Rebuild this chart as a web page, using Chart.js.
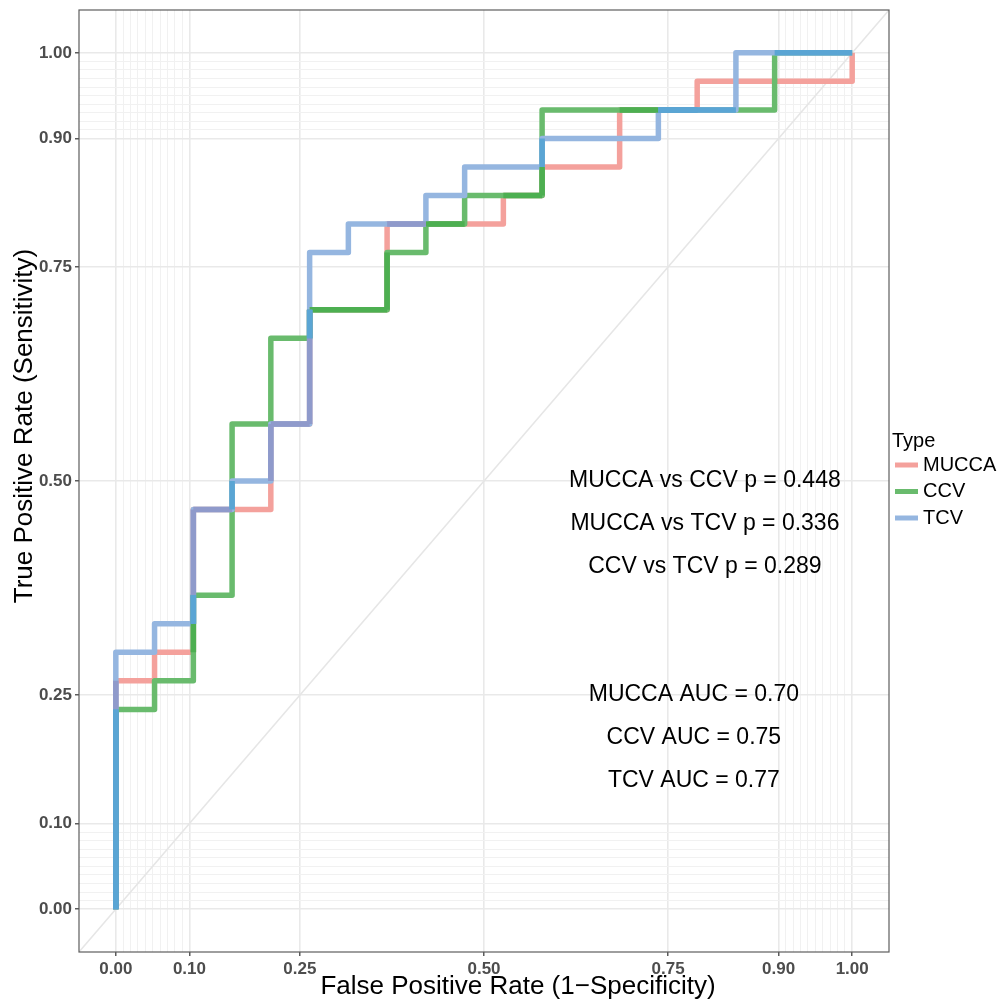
<!DOCTYPE html>
<html>
<head>
<meta charset="utf-8">
<script src="https://cdn.jsdelivr.net/npm/chart.js@4.4.0/dist/chart.umd.min.js"></script>
<style>
  html, body { margin:0; padding:0; background:#fff; }
  #wrap { width:1004px; height:1001px; }
</style>
</head>
<body>
<div id="wrap"><canvas id="roc" width="1004" height="1001"></canvas></div>
<script>
const seriesNames = ['MUCCA', 'CCV', 'TCV'];

// ROC points (FPR, TPR); the curve rises at the previous FPR, then runs across
const muccaFpr = [0, 0.0526, 0.1053, 0.2105, 0.2632, 0.3684, 0.5263, 0.5789, 0.6842, 0.7895, 1, 1];
const muccaTpr = [0, 0.2667, 0.3, 0.4667, 0.5667, 0.7, 0.8, 0.8333, 0.8667, 0.9333, 0.9667, 1];
const ccvFpr = [0, 0.0526, 0.1053, 0.1579, 0.2105, 0.2632, 0.3684, 0.4211, 0.4737, 0.5789, 0.8947, 1];
const ccvTpr = [0, 0.2333, 0.2667, 0.3667, 0.5667, 0.6667, 0.7, 0.7667, 0.8, 0.8333, 0.9333, 1];
const tcvFpr = [0, 0.0526, 0.1053, 0.1579, 0.2105, 0.2632, 0.3158, 0.4211, 0.4737, 0.5789, 0.7368, 0.8421, 1];
const tcvTpr = [0, 0.3, 0.3333, 0.4667, 0.5, 0.5667, 0.7667, 0.8, 0.8333, 0.8667, 0.9, 0.9333, 1];

const majorBreaks = [0, 0.1, 0.25, 0.5, 0.75, 0.9, 1];
const minorBreaks = [0.01, 0.02, 0.03, 0.04, 0.05, 0.06, 0.07, 0.08, 0.09,
                     0.91, 0.92, 0.93, 0.94, 0.95, 0.96, 0.97, 0.98, 0.99];

const annTexts = ['MUCCA vs CCV p = 0.448', 'MUCCA vs TCV p = 0.336', 'CCV vs TCV p = 0.289',
                  'MUCCA AUC = 0.70', 'CCV AUC = 0.75', 'TCV AUC = 0.77'];
const annX = [0.8, 0.8, 0.8, 0.785, 0.785, 0.785];
const annY = [0.5, 0.45, 0.4, 0.25, 0.2, 0.15];

const colors = ['#F4A19C', '#69BB6D', '#95B6E0'];
// colours where curves lie on top of each other
const overlapColors = { '01': '#4DAF51', '02': '#8F9ACB', '12': '#5AA5D4', '012': '#5AA5D4' };

const FONT = "'Liberation Sans', Arial, Helvetica, sans-serif";
const EPS = 1e-3;
const LW = 5.5;

function stepPoints(fpr, tpr) {
  const pts = [{x: fpr[0], y: tpr[0]}];
  for (let i = 1; i < fpr.length; i++) {
    if (Math.abs(tpr[i] - tpr[i-1]) > EPS) pts.push({x: fpr[i-1], y: tpr[i]});
    if (Math.abs(fpr[i] - fpr[i-1]) > EPS) pts.push({x: fpr[i], y: tpr[i]});
  }
  return pts;
}

function segments(pts) {
  const segs = [];
  for (let i = 1; i < pts.length; i++) {
    const a = pts[i-1], b = pts[i];
    if (Math.abs(a.y - b.y) < EPS) segs.push({h: true, c: a.y, lo: Math.min(a.x, b.x), hi: Math.max(a.x, b.x)});
    else segs.push({h: false, c: a.x, lo: Math.min(a.y, b.y), hi: Math.max(a.y, b.y)});
  }
  return segs;
}

function overlap(sa, sb) {
  const out = [];
  sa.forEach(s => sb.forEach(t => {
    if (s.h !== t.h || Math.abs(s.c - t.c) > EPS) return;
    const lo = Math.max(s.lo, t.lo), hi = Math.min(s.hi, t.hi);
    if (hi - lo > EPS) out.push({h: s.h, c: s.c, lo: lo, hi: hi});
  }));
  return out;
}

function segData(segs) {
  const d = [];
  segs.forEach(s => {
    if (s.h) { d.push({x: s.lo, y: s.c}, {x: s.hi, y: s.c}, {x: s.hi, y: null}); }
    else { d.push({x: s.c, y: s.lo}, {x: s.c, y: s.hi}, {x: s.c, y: null}); }
  });
  return d;
}

const curves = [stepPoints(muccaFpr, muccaTpr), stepPoints(ccvFpr, ccvTpr), stepPoints(tcvFpr, tcvTpr)];
const segs = curves.map(segments);
const ov = {
  '01': overlap(segs[0], segs[1]),
  '02': overlap(segs[0], segs[2]),
  '12': overlap(segs[1], segs[2])
};
ov['012'] = overlap(ov['01'], segs[2]);

// chart.js paints lower "order" on top
const datasets = curves.map((pts, i) => ({
  label: seriesNames[i], data: pts, borderColor: colors[i], borderWidth: LW,
  pointRadius: 0, borderJoinStyle: 'round', borderCapStyle: 'butt', fill: false,
  order: 20 - i
}));
['01', '02', '12', '012'].forEach((k, j) => {
  datasets.push({
    label: 'ov' + k, data: segData(ov[k]), borderColor: overlapColors[k], borderWidth: LW,
    pointRadius: 0, borderCapStyle: 'butt', spanGaps: false, fill: false,
    order: 10 - j
  });
});

function buildTicks(scale) {
  const all = majorBreaks.map(v => ({value: v, mj: true}))
    .concat(minorBreaks.map(v => ({value: v, mj: false})));
  all.sort((a, b) => a.value - b.value);
  scale.ticks = all;
}

function axisOpts(fit) {
  return {
    type: 'linear', min: -0.05, max: 1.05,
    afterBuildTicks: buildTicks,
    afterFit: s => {
      fit(s);
      s.paddingTop = 0; s.paddingBottom = 0; s.paddingLeft = 0; s.paddingRight = 0;
    },
    border: { display: false },
    grid: {
      color: c => (c.tick && c.tick.mj) ? '#E9E9E9' : '#F1F1F1',
      lineWidth: c => (c.tick && c.tick.mj) ? 1.6 : 1,
      drawTicks: true, tickLength: 4,
      tickColor: c => (c.tick && c.tick.mj) ? '#333333' : 'rgba(0,0,0,0)',
      tickWidth: 1.2
    },
    ticks: {
      autoSkip: false, maxRotation: 0, padding: 3,
      color: '#4D4D4D', font: { family: FONT, size: 17, weight: 'bold' },
      callback: (v, i, t) => t[i].mj ? Number(v).toFixed(2) : ''
    }
  };
}

const panelPlugin = {
  id: 'panel',
  beforeDatasetsDraw(chart) {
    const {ctx, chartArea: a, scales: {x, y}} = chart;
    ctx.save();
    ctx.beginPath();
    ctx.rect(a.left, a.top, a.right - a.left, a.bottom - a.top);
    ctx.clip();
    ctx.strokeStyle = '#E6E6E6';
    ctx.lineWidth = 1.5;
    ctx.beginPath();
    ctx.moveTo(x.getPixelForValue(x.min), y.getPixelForValue(y.min));
    ctx.lineTo(x.getPixelForValue(x.max), y.getPixelForValue(y.max));
    ctx.stroke();
    ctx.restore();
  },
  afterDraw(chart) {
    const {ctx, chartArea: a, scales: {x, y}} = chart;
    ctx.save();
    ctx.strokeStyle = '#5E5E5E';
    ctx.lineWidth = 1.2;
    ctx.strokeRect(a.left, a.top, a.right - a.left, a.bottom - a.top);

    // annotations
    ctx.fillStyle = '#000';
    ctx.font = '23px ' + FONT;
    ctx.textAlign = 'center';
    ctx.textBaseline = 'middle';
    annTexts.forEach((t, i) => ctx.fillText(t, x.getPixelForValue(annX[i]), y.getPixelForValue(annY[i])));

    // axis titles
    ctx.font = '26px ' + FONT;
    ctx.fillText('False Positive Rate (1\u2212Specificity)', 518, 987);
    ctx.save();
    ctx.translate(25, 426);
    ctx.rotate(-Math.PI / 2);
    ctx.fillText('True Positive Rate (Sensitivity)', 0, 0);
    ctx.restore();

    // legend
    ctx.textAlign = 'left';
    ctx.font = '20px ' + FONT;
    ctx.fillText('Type', 892, 441);
    seriesNames.forEach((n, i) => {
      const ly = 465 + i * 26.5;
      ctx.strokeStyle = colors[i];
      ctx.lineWidth = 5;
      ctx.beginPath();
      ctx.moveTo(895, ly);
      ctx.lineTo(918, ly);
      ctx.stroke();
      ctx.fillText(n, 923, ly);
    });
    ctx.restore();
  }
};

new Chart(document.getElementById('roc'), {
  type: 'line',
  data: { datasets: datasets },
  options: {
    responsive: false, animation: false, devicePixelRatio: 1,
    layout: { padding: { top: 10, right: 115, left: 0, bottom: 0 } },
    scales: {
      x: axisOpts(s => { s.height = 49; }),
      y: axisOpts(s => { s.width = 79; })
    },
    plugins: { legend: { display: false }, tooltip: { enabled: false } }
  },
  plugins: [panelPlugin]
});
</script>
</body>
</html>
